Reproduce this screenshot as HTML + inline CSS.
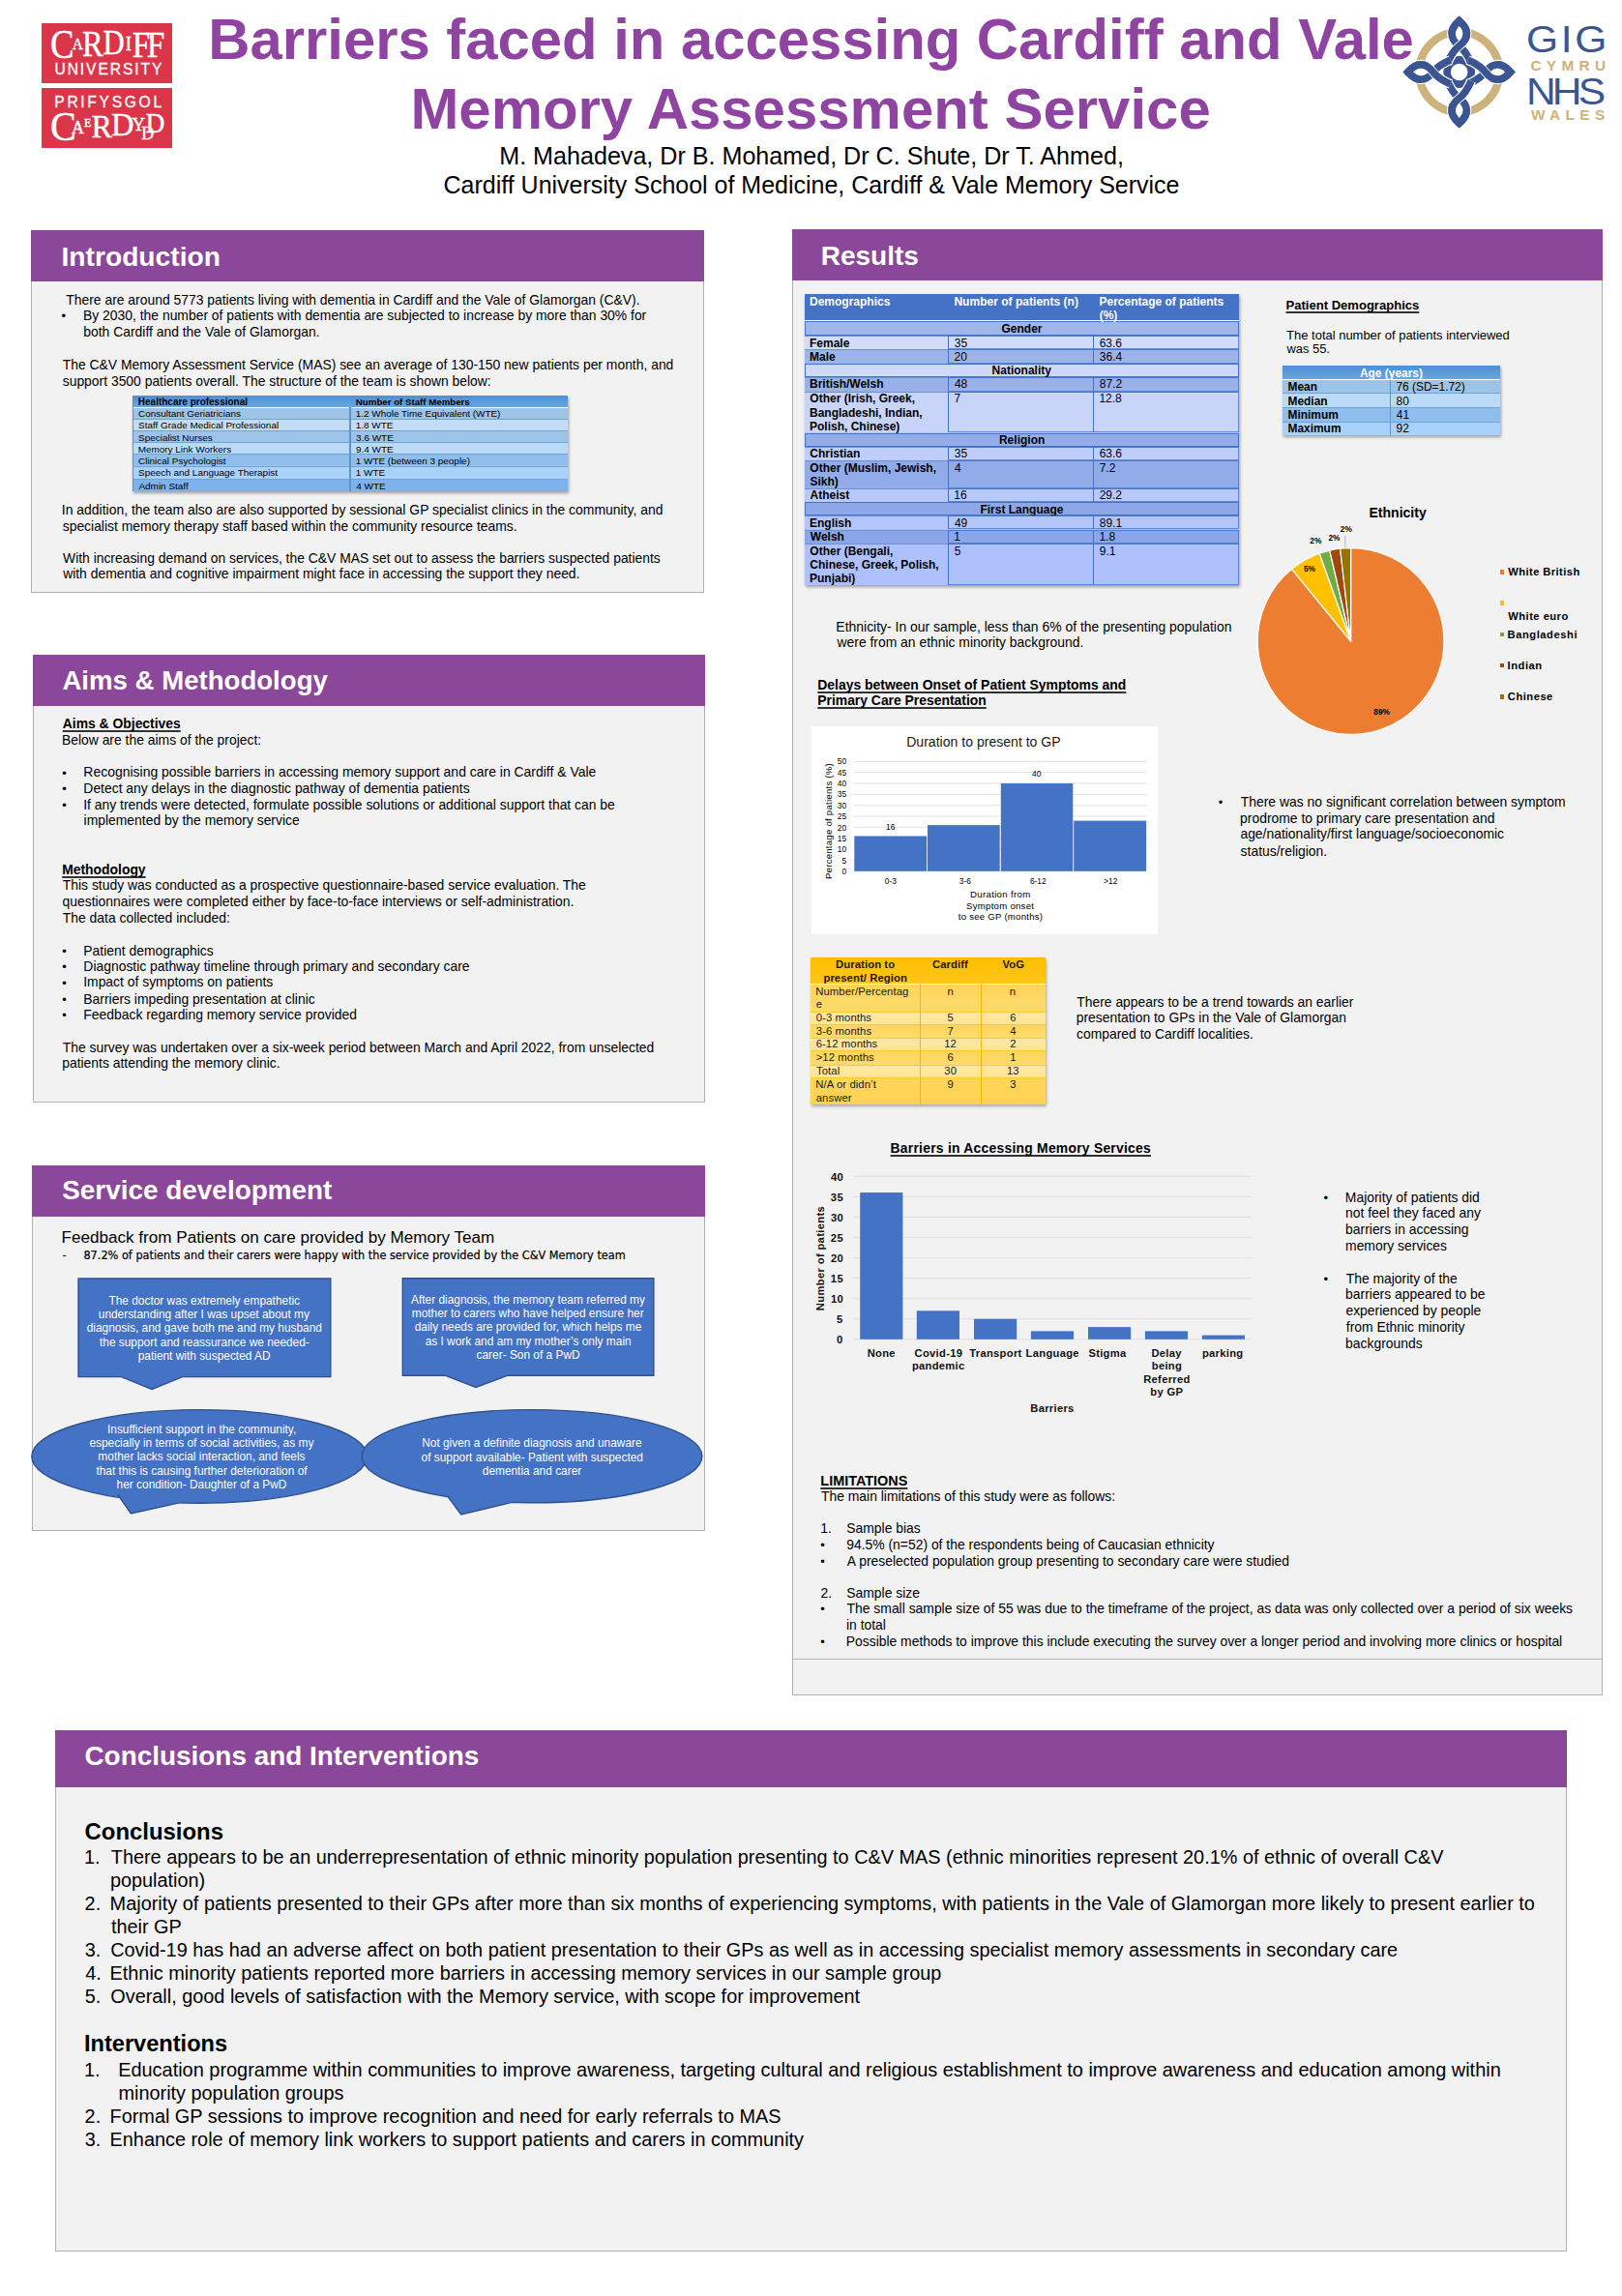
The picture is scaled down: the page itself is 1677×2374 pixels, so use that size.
<!DOCTYPE html>
<html><head><meta charset="utf-8"><title>Barriers faced in accessing Cardiff and Vale Memory Assessment Service</title>
<style>
html,body{margin:0;padding:0;background:#fff;}
body{width:1677px;height:2374px;position:relative;overflow:hidden;font-family:"Liberation Sans",sans-serif;color:#000;}
.t{position:absolute;white-space:pre;line-height:1;}
.r{position:absolute;box-sizing:border-box;}
svg{position:absolute;overflow:visible;}
</style></head><body>
<div class="t" style="left:215.25px;top:7px;font-size:59.82px;font-weight:bold;color:#8E44A0;line-height:67px;">Barriers faced in accessing Cardiff and Vale</div>
<div class="t" style="left:424.39px;top:79px;font-size:59.95px;font-weight:bold;color:#8E44A0;line-height:67px;">Memory Assessment Service</div>
<div class="t" style="left:516.24px;top:147px;font-size:25.12px;line-height:28px;">M. Mahadeva, Dr B. Mohamed, Dr C. Shute, Dr T. Ahmed,</div>
<div class="t" style="left:458.55px;top:177px;font-size:24.99px;line-height:28px;">Cardiff University School of Medicine, Cardiff &amp; Vale Memory Service</div>
<div class="r" style="left:43.40px;top:24.10px;width:134.40px;height:62.40px;background:#DB3549;"></div>
<div class="r" style="left:43.40px;top:90.50px;width:134.40px;height:62.60px;background:#DB3549;"></div>
<div class="r" style="left:32.40px;top:237.50px;width:696.10px;height:375.00px;background:#F2F2F2;border:1px solid #B0B0B0;"></div>
<div class="r" style="left:32.40px;top:237.50px;width:696.10px;height:53.50px;background:#8B4799;"></div>
<div class="t" style="left:63.54px;top:249px;font-size:28.19px;font-weight:bold;color:#fff;line-height:32px;">Introduction</div>
<div class="t" style="left:68.29px;top:302px;font-size:13.90px;line-height:16px;">There are around 5773 patients living with dementia in Cardiff and the Vale of Glamorgan (C&amp;V).</div>
<div class="t" style="left:63.43px;top:319px;font-size:13.00px;line-height:15px;">•</div>
<div class="t" style="left:86.06px;top:318px;font-size:13.90px;line-height:16px;">By 2030, the number of patients with dementia are subjected to increase by more than 30% for</div>
<div class="t" style="left:86.31px;top:335px;font-size:13.90px;line-height:16px;">both Cardiff and the Vale of Glamorgan.</div>
<div class="t" style="left:64.79px;top:369px;font-size:13.90px;line-height:16px;">The C&amp;V Memory Assessment Service (MAS) see an average of 130-150 new patients per month, and</div>
<div class="t" style="left:64.72px;top:386px;font-size:13.90px;line-height:16px;">support 3500 patients overall. The structure of the team is shown below:</div>
<div class="t" style="left:63.82px;top:519px;font-size:13.94px;line-height:16px;">In addition, the team also are also supported by sessional GP specialist clinics in the community, and</div>
<div class="t" style="left:64.72px;top:536px;font-size:13.90px;line-height:16px;">specialist memory therapy staff based within the community resource teams.</div>
<div class="t" style="left:65.04px;top:569px;font-size:13.88px;line-height:16px;">With increasing demand on services, the C&amp;V MAS set out to assess the barriers suspected patients</div>
<div class="t" style="left:65.13px;top:585px;font-size:13.90px;line-height:16px;">with dementia and cognitive impairment might face in accessing the support they need.</div>
<div class="r" style="left:137.20px;top:409.30px;width:449.70px;height:98.40px;background:#9DC3E6;box-shadow:1px 2px 3px rgba(0,0,0,.35);"></div>
<div class="r" style="left:137.20px;top:409.30px;width:449.70px;height:11.30px;background:linear-gradient(#4E8FD3,#6AA6DD);"></div>
<div class="r" style="left:137.20px;top:420.60px;width:449.70px;height:12.20px;background:#9DC3E6;border-top:1.6px solid #fff;"></div>
<div class="r" style="left:137.20px;top:432.80px;width:449.70px;height:12.20px;background:#C4DCF3;border-top:1px solid #6FA3DA;"></div>
<div class="r" style="left:137.20px;top:445.00px;width:449.70px;height:12.20px;background:#9DC3EA;border-top:1px solid #6FA3DA;"></div>
<div class="r" style="left:137.20px;top:457.20px;width:449.70px;height:12.20px;background:#BBDAF8;border-top:1px solid #6FA3DA;"></div>
<div class="r" style="left:137.20px;top:469.40px;width:449.70px;height:12.10px;background:#8FBDEC;border-top:1px solid #6FA3DA;"></div>
<div class="r" style="left:137.20px;top:481.50px;width:449.70px;height:13.10px;background:#A9D2FA;border-top:1px solid #6FA3DA;"></div>
<div class="r" style="left:137.20px;top:494.60px;width:449.70px;height:13.10px;background:#7DB3EC;border-top:1px solid #6FA3DA;"></div>
<div class="r" style="left:361.00px;top:420.60px;width:1.60px;height:87.10px;background:#5B93D3;"></div>
<div class="r" style="left:137.20px;top:409.30px;width:1.00px;height:98.40px;background:#5B93D3;"></div>
<div class="t" style="left:142.84px;top:410px;font-size:9.99px;font-weight:bold;line-height:11px;">Healthcare professional</div>
<div class="t" style="left:367.86px;top:410px;font-size:9.70px;font-weight:bold;line-height:11px;">Number of Staff Members</div>
<div class="t" style="left:143.00px;top:422px;font-size:9.95px;line-height:11px;">Consultant Geriatricians</div>
<div class="t" style="left:367.74px;top:422px;font-size:9.95px;line-height:11px;">1.2 Whole Time Equivalent (WTE)</div>
<div class="t" style="left:143.05px;top:434px;font-size:9.95px;line-height:11px;">Staff Grade Medical Professional</div>
<div class="t" style="left:367.74px;top:434px;font-size:9.95px;line-height:11px;">1.8 WTE</div>
<div class="t" style="left:143.05px;top:447px;font-size:9.95px;line-height:11px;">Specialist Nurses</div>
<div class="t" style="left:368.12px;top:447px;font-size:9.95px;line-height:11px;">3.6 WTE</div>
<div class="t" style="left:142.68px;top:459px;font-size:9.95px;line-height:11px;">Memory Link Workers</div>
<div class="t" style="left:368.04px;top:459px;font-size:9.95px;line-height:11px;">9.4 WTE</div>
<div class="t" style="left:143.00px;top:471px;font-size:9.95px;line-height:11px;">Clinical Psychologist</div>
<div class="t" style="left:367.74px;top:471px;font-size:9.95px;line-height:11px;">1 WTE (between 3 people)</div>
<div class="t" style="left:143.05px;top:483px;font-size:9.95px;line-height:11px;">Speech and Language Therapist</div>
<div class="t" style="left:367.74px;top:483px;font-size:9.95px;line-height:11px;">1 WTE</div>
<div class="t" style="left:143.48px;top:497px;font-size:9.95px;line-height:11px;">Admin Staff</div>
<div class="t" style="left:368.28px;top:497px;font-size:9.95px;line-height:11px;">4 WTE</div>
<div class="r" style="left:34.00px;top:676.50px;width:694.80px;height:463.00px;background:#F2F2F2;border:1px solid #B0B0B0;"></div>
<div class="r" style="left:34.00px;top:676.50px;width:694.80px;height:53.10px;background:#8B4799;"></div>
<div class="t" style="left:64.44px;top:688px;font-size:27.60px;font-weight:bold;color:#fff;line-height:31px;">Aims &amp; Methodology</div>
<div class="t" style="left:64.77px;top:740px;font-size:13.90px;font-weight:bold;text-decoration:underline #333;text-decoration-skip-ink:none;text-underline-offset:2.29px;text-decoration-thickness:1.60px;line-height:16px;">Aims &amp; Objectives</div>
<div class="t" style="left:63.96px;top:757px;font-size:13.90px;line-height:16px;">Below are the aims of the project:</div>
<div class="t" style="left:64.32px;top:792px;font-size:13.00px;line-height:15px;">•</div>
<div class="t" style="left:86.36px;top:790px;font-size:13.96px;line-height:16px;">Recognising possible barriers in accessing memory support and care in Cardiff &amp; Vale</div>
<div class="t" style="left:64.32px;top:808px;font-size:13.00px;line-height:15px;">•</div>
<div class="t" style="left:86.36px;top:807px;font-size:13.90px;line-height:16px;">Detect any delays in the diagnostic pathway of dementia patients</div>
<div class="t" style="left:64.32px;top:825px;font-size:13.00px;line-height:15px;">•</div>
<div class="t" style="left:86.22px;top:824px;font-size:13.92px;line-height:16px;">If any trends were detected, formulate possible solutions or additional support that can be</div>
<div class="t" style="left:86.58px;top:840px;font-size:13.90px;line-height:16px;">implemented by the memory service</div>
<div class="t" style="left:64.18px;top:891px;font-size:13.90px;font-weight:bold;text-decoration:underline #333;text-decoration-skip-ink:none;text-underline-offset:2.29px;text-decoration-thickness:1.60px;line-height:16px;">Methodology</div>
<div class="t" style="left:64.79px;top:907px;font-size:13.90px;line-height:16px;">This study was conducted as a prospective questionnaire-based service evaluation. The</div>
<div class="t" style="left:64.52px;top:924px;font-size:13.90px;line-height:16px;">questionnaires were completed either by face-to-face interviews or self-administration.</div>
<div class="t" style="left:64.79px;top:941px;font-size:13.90px;line-height:16px;">The data collected included:</div>
<div class="t" style="left:64.32px;top:976px;font-size:13.00px;line-height:15px;">•</div>
<div class="t" style="left:86.36px;top:975px;font-size:13.90px;line-height:16px;">Patient demographics</div>
<div class="t" style="left:64.32px;top:992px;font-size:13.00px;line-height:15px;">•</div>
<div class="t" style="left:86.36px;top:991px;font-size:13.90px;line-height:16px;">Diagnostic pathway timeline through primary and secondary care</div>
<div class="t" style="left:64.32px;top:1009px;font-size:13.00px;line-height:15px;">•</div>
<div class="t" style="left:86.22px;top:1007px;font-size:13.90px;line-height:16px;">Impact of symptoms on patients</div>
<div class="t" style="left:64.32px;top:1026px;font-size:13.00px;line-height:15px;">•</div>
<div class="t" style="left:86.36px;top:1025px;font-size:13.90px;line-height:16px;">Barriers impeding presentation at clinic</div>
<div class="t" style="left:64.32px;top:1042px;font-size:13.00px;line-height:15px;">•</div>
<div class="t" style="left:86.36px;top:1041px;font-size:13.90px;line-height:16px;">Feedback regarding memory service provided</div>
<div class="t" style="left:64.79px;top:1075px;font-size:13.90px;line-height:16px;">The survey was undertaken over a six-week period between March and April 2022, from unselected</div>
<div class="t" style="left:64.21px;top:1091px;font-size:13.90px;line-height:16px;">patients attending the memory clinic.</div>
<div class="r" style="left:32.80px;top:1204.80px;width:695.80px;height:377.80px;background:#F2F2F2;border:1px solid #B0B0B0;"></div>
<div class="r" style="left:32.80px;top:1204.80px;width:695.80px;height:53.00px;background:#8B4799;"></div>
<div class="t" style="left:64.22px;top:1215px;font-size:27.91px;font-weight:bold;color:#fff;line-height:31px;">Service development</div>
<div class="t" style="left:63.60px;top:1270px;font-size:17.08px;line-height:19px;">Feedback from Patients on care provided by Memory Team</div>
<div class="t" style="left:64.46px;top:1290px;font-size:12.50px;font-family:'DejaVu Sans Condensed','DejaVu Sans',sans-serif;line-height:15px;">-</div>
<div class="t" style="left:86.43px;top:1290px;font-size:12.57px;font-family:'DejaVu Sans Condensed','DejaVu Sans',sans-serif;line-height:15px;-webkit-text-stroke:0.2px #000;">87.2% of patients and their carers were happy with the service provided by the C&amp;V Memory team</div>
<svg style="left:0;top:0" width="1677" height="2374" viewBox="0 0 1677 2374"><path d="M81.0 1322.0 H341.8 V1423.6 H188.7 L157.0 1436.5 L125.4 1423.6 H81.0 Z" fill="#4472C4" stroke="#2F528F" stroke-width="1.4"/><path d="M416.3 1321.8 H675.9 V1422.2 H525.1 L492.0 1434.5 L460.1 1422.2 H416.3 Z" fill="#4472C4" stroke="#2F528F" stroke-width="1.4"/><ellipse cx="206.2" cy="1505.9" rx="173.4" ry="48.3" fill="#4472C4" stroke="#2F528F" stroke-width="1.4"/><path d="M122.0 1545.5 L135.4 1565.0 L185.4 1553.9" fill="#4472C4" stroke="#2F528F" stroke-width="1.4"/><path d="M123.2 1542.5 L123.2 1546.1 L184.4 1554.3 L189.4 1549.9 Z" fill="#4472C4"/><ellipse cx="550.0" cy="1505.7" rx="175.9" ry="48.1" fill="#4472C4" stroke="#2F528F" stroke-width="1.4"/><path d="M463.5 1548.1 L476.8 1566.0 L527.4 1553.8" fill="#4472C4" stroke="#2F528F" stroke-width="1.4"/><path d="M464.7 1545.1 L464.7 1548.7 L526.4 1554.2 L531.4 1549.8 Z" fill="#4472C4"/></svg>
<div class="t" style="left:112.45px;top:1338px;font-size:11.90px;color:#fff;line-height:14px;">The doctor was extremely empathetic</div>
<div class="t" style="left:101.78px;top:1352px;font-size:11.90px;color:#fff;line-height:14px;">understanding after I was upset about my</div>
<div class="t" style="left:89.70px;top:1366px;font-size:11.90px;color:#fff;line-height:14px;">diagnosis, and gave both me and my husband</div>
<div class="t" style="left:102.98px;top:1381px;font-size:11.90px;color:#fff;line-height:14px;">the support and reassurance we needed-</div>
<div class="t" style="left:142.73px;top:1395px;font-size:11.90px;color:#fff;line-height:14px;">patient with suspected AD</div>
<div class="t" style="left:425.07px;top:1337px;font-size:11.90px;color:#fff;line-height:14px;">After diagnosis, the memory team referred my</div>
<div class="t" style="left:425.74px;top:1351px;font-size:11.90px;color:#fff;line-height:14px;">mother to carers who have helped ensure her</div>
<div class="t" style="left:428.70px;top:1365px;font-size:11.90px;color:#fff;line-height:14px;">daily needs are provided for, which helps me</div>
<div class="t" style="left:439.64px;top:1380px;font-size:11.90px;color:#fff;line-height:14px;">as I work and am my mother’s only main</div>
<div class="t" style="left:492.56px;top:1394px;font-size:11.90px;color:#fff;line-height:14px;">carer- Son of a PwD</div>
<div class="t" style="left:111.01px;top:1471px;font-size:11.90px;color:#fff;line-height:14px;">Insufficient support in the community,</div>
<div class="t" style="left:92.40px;top:1485px;font-size:11.90px;color:#fff;line-height:14px;">especially in terms of social activities, as my</div>
<div class="t" style="left:101.37px;top:1499px;font-size:11.90px;color:#fff;line-height:14px;">mother lacks social interaction, and feels</div>
<div class="t" style="left:99.46px;top:1514px;font-size:11.90px;color:#fff;line-height:14px;">that this is causing further deterioration of</div>
<div class="t" style="left:120.60px;top:1528px;font-size:11.90px;color:#fff;line-height:14px;">her condition- Daughter of a PwD</div>
<div class="t" style="left:436.19px;top:1485px;font-size:11.90px;color:#fff;line-height:14px;">Not given a definite diagnosis and unaware</div>
<div class="t" style="left:435.56px;top:1500px;font-size:11.90px;color:#fff;line-height:14px;">of support available- Patient with suspected</div>
<div class="t" style="left:498.78px;top:1514px;font-size:11.90px;color:#fff;line-height:14px;">dementia and carer</div>
<div class="r" style="left:818.50px;top:237.30px;width:838.10px;height:1515.90px;background:#F2F2F2;border:1px solid #B0B0B0;"></div>
<div class="r" style="left:818.50px;top:237.30px;width:838.10px;height:52.90px;background:#8B4799;"></div>
<div class="t" style="left:848.65px;top:249px;font-size:28.04px;font-weight:bold;color:#fff;line-height:31px;">Results</div>
<div class="r" style="left:818.50px;top:1715.40px;width:838.10px;height:1.00px;background:#B0B0B0;"></div>
<div class="r" style="left:832.00px;top:304.20px;width:449.30px;height:301.00px;background:linear-gradient(#C9D6F5,#A5B8FA);box-shadow:1px 2px 3px rgba(0,0,0,.35);"></div>
<div class="r" style="left:832.00px;top:304.20px;width:449.30px;height:27.30px;background:#4472C4;"></div>
<div class="r" style="left:832.00px;top:330.80px;width:449.30px;height:1.40px;background:#fff;"></div>
<div class="r" style="left:832.00px;top:331.90px;width:449.30px;height:15.00px;background:#A0B6E8;border:1.5px solid #4472C4;"></div>
<div class="t" style="left:1035.48px;top:333px;font-size:12.00px;font-weight:bold;line-height:14px;">Gender</div>
<div class="r" style="left:832.00px;top:346.90px;width:449.30px;height:14.20px;background:#D2DCF8;border-top:1px solid #6F8FD8;"></div>
<div class="r" style="left:980.20px;top:346.90px;width:301.10px;height:14.20px;background:transparent;border:1px solid rgba(68,114,196,.75);border-left:1.5px solid #4472C4;"></div>
<div class="r" style="left:1130.30px;top:346.90px;width:1.00px;height:14.20px;background:#4472C4;"></div>
<div class="t" style="left:837.01px;top:348px;font-size:12.00px;font-weight:bold;line-height:14px;">Female</div>
<div class="t" style="left:986.74px;top:348px;font-size:12.00px;line-height:14px;">35</div>
<div class="t" style="left:1136.70px;top:348px;font-size:12.00px;line-height:14px;">63.6</div>
<div class="r" style="left:832.00px;top:361.10px;width:449.30px;height:14.50px;background:#9DB4E8;border-top:1px solid #6F8FD8;"></div>
<div class="r" style="left:980.20px;top:361.10px;width:301.10px;height:14.50px;background:transparent;border:1px solid rgba(68,114,196,.75);border-left:1.5px solid #4472C4;"></div>
<div class="r" style="left:1130.30px;top:361.10px;width:1.00px;height:14.50px;background:#4472C4;"></div>
<div class="t" style="left:837.01px;top:362px;font-size:12.00px;font-weight:bold;line-height:14px;">Male</div>
<div class="t" style="left:986.60px;top:362px;font-size:12.00px;line-height:14px;">20</div>
<div class="t" style="left:1136.84px;top:362px;font-size:12.00px;line-height:14px;">36.4</div>
<div class="r" style="left:832.00px;top:375.60px;width:449.30px;height:14.20px;background:#CDD9F9;border:1.5px solid #4472C4;"></div>
<div class="t" style="left:1025.61px;top:376px;font-size:12.00px;font-weight:bold;line-height:14px;">Nationality</div>
<div class="r" style="left:832.00px;top:389.80px;width:449.30px;height:14.80px;background:#9AB1E8;border-top:1px solid #6F8FD8;"></div>
<div class="r" style="left:980.20px;top:389.80px;width:301.10px;height:14.80px;background:transparent;border:1px solid rgba(68,114,196,.75);border-left:1.5px solid #4472C4;"></div>
<div class="r" style="left:1130.30px;top:389.80px;width:1.00px;height:14.80px;background:#4472C4;"></div>
<div class="t" style="left:837.01px;top:390px;font-size:12.00px;font-weight:bold;line-height:14px;">British/Welsh</div>
<div class="t" style="left:986.94px;top:390px;font-size:12.00px;line-height:14px;">48</div>
<div class="t" style="left:1136.78px;top:390px;font-size:12.00px;line-height:14px;">87.2</div>
<div class="r" style="left:832.00px;top:404.60px;width:449.30px;height:42.90px;background:#C8D5F9;border-top:1px solid #6F8FD8;"></div>
<div class="r" style="left:980.20px;top:404.60px;width:301.10px;height:42.90px;background:transparent;border:1px solid rgba(68,114,196,.75);border-left:1.5px solid #4472C4;"></div>
<div class="r" style="left:1130.30px;top:404.60px;width:1.00px;height:42.90px;background:#4472C4;"></div>
<div class="t" style="left:837.31px;top:405px;font-size:12.00px;font-weight:bold;line-height:14px;">Other (Irish, Greek,</div>
<div class="t" style="left:837.01px;top:420px;font-size:12.00px;font-weight:bold;line-height:14px;">Bangladeshi, Indian,</div>
<div class="t" style="left:837.01px;top:434px;font-size:12.00px;font-weight:bold;line-height:14px;">Polish, Chinese)</div>
<div class="t" style="left:986.59px;top:405px;font-size:12.00px;line-height:14px;">7</div>
<div class="t" style="left:1136.39px;top:405px;font-size:12.00px;line-height:14px;">12.8</div>
<div class="r" style="left:832.00px;top:447.50px;width:449.30px;height:14.20px;background:#94ADE8;border:1.5px solid #4472C4;"></div>
<div class="t" style="left:1032.96px;top:448px;font-size:12.00px;font-weight:bold;line-height:14px;">Religion</div>
<div class="r" style="left:832.00px;top:461.70px;width:449.30px;height:14.20px;background:#BFCEFA;border-top:1px solid #6F8FD8;"></div>
<div class="r" style="left:980.20px;top:461.70px;width:301.10px;height:14.20px;background:transparent;border:1px solid rgba(68,114,196,.75);border-left:1.5px solid #4472C4;"></div>
<div class="r" style="left:1130.30px;top:461.70px;width:1.00px;height:14.20px;background:#4472C4;"></div>
<div class="t" style="left:837.31px;top:462px;font-size:12.00px;font-weight:bold;line-height:14px;">Christian</div>
<div class="t" style="left:986.74px;top:462px;font-size:12.00px;line-height:14px;">35</div>
<div class="t" style="left:1136.70px;top:462px;font-size:12.00px;line-height:14px;">63.6</div>
<div class="r" style="left:832.00px;top:475.90px;width:449.30px;height:28.70px;background:#91AAE8;border-top:1px solid #6F8FD8;"></div>
<div class="r" style="left:980.20px;top:475.90px;width:301.10px;height:28.70px;background:transparent;border:1px solid rgba(68,114,196,.75);border-left:1.5px solid #4472C4;"></div>
<div class="r" style="left:1130.30px;top:475.90px;width:1.00px;height:28.70px;background:#4472C4;"></div>
<div class="t" style="left:837.31px;top:477px;font-size:12.00px;font-weight:bold;line-height:14px;">Other (Muslim, Jewish,</div>
<div class="t" style="left:837.46px;top:491px;font-size:12.00px;font-weight:bold;line-height:14px;">Sikh)</div>
<div class="t" style="left:986.94px;top:477px;font-size:12.00px;line-height:14px;">4</div>
<div class="t" style="left:1136.69px;top:477px;font-size:12.00px;line-height:14px;">7.2</div>
<div class="r" style="left:832.00px;top:504.60px;width:449.30px;height:14.50px;background:#B8C9FB;border-top:1px solid #6F8FD8;"></div>
<div class="r" style="left:980.20px;top:504.60px;width:301.10px;height:14.50px;background:transparent;border:1px solid rgba(68,114,196,.75);border-left:1.5px solid #4472C4;"></div>
<div class="r" style="left:1130.30px;top:504.60px;width:1.00px;height:14.50px;background:#4472C4;"></div>
<div class="t" style="left:837.51px;top:505px;font-size:12.00px;font-weight:bold;line-height:14px;">Atheist</div>
<div class="t" style="left:986.29px;top:505px;font-size:12.00px;line-height:14px;">16</div>
<div class="t" style="left:1136.70px;top:505px;font-size:12.00px;line-height:14px;">29.2</div>
<div class="r" style="left:832.00px;top:519.10px;width:449.30px;height:14.20px;background:#8DA7E8;border:1.5px solid #4472C4;"></div>
<div class="t" style="left:1013.45px;top:520px;font-size:12.00px;font-weight:bold;line-height:14px;">First Language</div>
<div class="r" style="left:832.00px;top:533.30px;width:449.30px;height:14.20px;background:#B4C5FC;border-top:1px solid #6F8FD8;"></div>
<div class="r" style="left:980.20px;top:533.30px;width:301.10px;height:14.20px;background:transparent;border:1px solid rgba(68,114,196,.75);border-left:1.5px solid #4472C4;"></div>
<div class="r" style="left:1130.30px;top:533.30px;width:1.00px;height:14.20px;background:#4472C4;"></div>
<div class="t" style="left:837.01px;top:534px;font-size:12.00px;font-weight:bold;line-height:14px;">English</div>
<div class="t" style="left:986.94px;top:534px;font-size:12.00px;line-height:14px;">49</div>
<div class="t" style="left:1136.78px;top:534px;font-size:12.00px;line-height:14px;">89.1</div>
<div class="r" style="left:832.00px;top:547.50px;width:449.30px;height:14.50px;background:#8AA5E8;border-top:1px solid #6F8FD8;"></div>
<div class="r" style="left:980.20px;top:547.50px;width:301.10px;height:14.50px;background:transparent;border:1px solid rgba(68,114,196,.75);border-left:1.5px solid #4472C4;"></div>
<div class="r" style="left:1130.30px;top:547.50px;width:1.00px;height:14.50px;background:#4472C4;"></div>
<div class="t" style="left:837.79px;top:548px;font-size:12.00px;font-weight:bold;line-height:14px;">Welsh</div>
<div class="t" style="left:986.29px;top:548px;font-size:12.00px;line-height:14px;">1</div>
<div class="t" style="left:1136.39px;top:548px;font-size:12.00px;line-height:14px;">1.8</div>
<div class="r" style="left:832.00px;top:562.00px;width:449.30px;height:43.20px;background:#AFC1FC;border-top:1px solid #6F8FD8;"></div>
<div class="r" style="left:980.20px;top:562.00px;width:301.10px;height:43.20px;background:transparent;border:1px solid rgba(68,114,196,.75);border-left:1.5px solid #4472C4;"></div>
<div class="r" style="left:1130.30px;top:562.00px;width:1.00px;height:43.20px;background:#4472C4;"></div>
<div class="t" style="left:837.31px;top:563px;font-size:12.00px;font-weight:bold;line-height:14px;">Other (Bengali,</div>
<div class="t" style="left:837.31px;top:577px;font-size:12.00px;font-weight:bold;line-height:14px;">Chinese, Greek, Polish,</div>
<div class="t" style="left:837.01px;top:591px;font-size:12.00px;font-weight:bold;line-height:14px;">Punjabi)</div>
<div class="t" style="left:986.72px;top:563px;font-size:12.00px;line-height:14px;">5</div>
<div class="t" style="left:1136.75px;top:563px;font-size:12.00px;line-height:14px;">9.1</div>
<div class="t" style="left:837.01px;top:305px;font-size:12.00px;font-weight:bold;color:#fff;line-height:14px;">Demographics</div>
<div class="t" style="left:986.40px;top:305px;font-size:12.06px;font-weight:bold;color:#fff;line-height:14px;">Number of patients (n)</div>
<div class="t" style="left:1136.51px;top:305px;font-size:12.00px;font-weight:bold;color:#fff;line-height:14px;">Percentage of patients</div>
<div class="t" style="left:1136.71px;top:319px;font-size:12.00px;font-weight:bold;color:#fff;line-height:14px;">(%)</div>
<div class="t" style="left:1329.54px;top:308px;font-size:13.05px;font-weight:bold;text-decoration:underline #333;text-decoration-skip-ink:none;text-underline-offset:2.15px;text-decoration-thickness:1.50px;line-height:15px;">Patient Demographics</div>
<div class="t" style="left:1330.11px;top:339px;font-size:12.97px;line-height:15px;">The total number of patients interviewed</div>
<div class="t" style="left:1330.43px;top:353px;font-size:12.91px;line-height:15px;">was 55.</div>
<div class="r" style="left:1325.80px;top:378.10px;width:225.00px;height:72.10px;background:#9DC3E6;box-shadow:1px 2px 3px rgba(0,0,0,.35);"></div>
<div class="r" style="left:1325.80px;top:378.10px;width:225.00px;height:14.30px;background:linear-gradient(#4E8FD3,#6AA6DD);"></div>
<div class="r" style="left:1325.80px;top:392.40px;width:225.00px;height:14.00px;background:#9DC3E6;border-top:1px solid #fff;"></div>
<div class="r" style="left:1325.80px;top:406.40px;width:225.00px;height:14.80px;background:#BBDAF8;border-top:1px solid #6FA3DA;"></div>
<div class="r" style="left:1325.80px;top:421.20px;width:225.00px;height:14.50px;background:#8FBDEC;border-top:1px solid #6FA3DA;"></div>
<div class="r" style="left:1325.80px;top:435.70px;width:225.00px;height:14.50px;background:#A9D2FA;border-top:1px solid #6FA3DA;"></div>
<div class="r" style="left:1437.00px;top:392.40px;width:1.20px;height:57.80px;background:#5B93D3;"></div>
<div class="t" style="left:1405.96px;top:379px;font-size:11.93px;font-weight:bold;color:#fff;line-height:14px;">Age (years)</div>
<div class="r" style="left:1325.80px;top:391.70px;width:225.00px;height:1.40px;background:#fff;"></div>
<div class="t" style="left:1331.51px;top:393px;font-size:11.93px;font-weight:bold;line-height:14px;">Mean</div>
<div class="t" style="left:1443.49px;top:393px;font-size:11.93px;line-height:14px;">76 (SD=1.72)</div>
<div class="t" style="left:1331.51px;top:408px;font-size:11.93px;font-weight:bold;line-height:14px;">Median</div>
<div class="t" style="left:1443.59px;top:408px;font-size:11.93px;line-height:14px;">80</div>
<div class="t" style="left:1331.51px;top:422px;font-size:11.93px;font-weight:bold;line-height:14px;">Minimum</div>
<div class="t" style="left:1443.84px;top:422px;font-size:11.93px;line-height:14px;">41</div>
<div class="t" style="left:1331.51px;top:436px;font-size:11.93px;font-weight:bold;line-height:14px;">Maximum</div>
<div class="t" style="left:1443.55px;top:436px;font-size:11.93px;line-height:14px;">92</div>
<div class="t" style="left:1415.47px;top:522px;font-size:14.04px;font-weight:bold;line-height:16px;">Ethnicity</div>
<svg style="left:0;top:0" width="1677" height="2374" viewBox="0 0 1677 2374"><path d="M1396.60 663.00 L1396.60 566.60 A96.40 96.40 0 1 1 1335.58 588.37 Z" fill="#ED7D31" stroke="#fff" stroke-width="1.2" stroke-linejoin="round"/><path d="M1396.60 663.00 L1335.58 588.37 A96.40 96.40 0 0 1 1364.20 572.21 Z" fill="#FFC000" stroke="#fff" stroke-width="1.2" stroke-linejoin="round"/><path d="M1396.60 663.00 L1364.20 572.21 A96.40 96.40 0 0 1 1374.77 569.11 Z" fill="#70AD47" stroke="#fff" stroke-width="1.2" stroke-linejoin="round"/><path d="M1396.60 663.00 L1374.77 569.11 A96.40 96.40 0 0 1 1385.61 567.23 Z" fill="#9E480E" stroke="#fff" stroke-width="1.2" stroke-linejoin="round"/><path d="M1396.60 663.00 L1385.61 567.23 A96.40 96.40 0 0 1 1396.60 566.60 Z" fill="#997300" stroke="#fff" stroke-width="1.2" stroke-linejoin="round"/><path d="M1390.8 553.5 V566.5" stroke="#A6A6A6" stroke-width="0.8"/></svg>
<div class="t" style="left:1385.87px;top:542px;font-size:8.30px;font-weight:bold;line-height:10px;">2%</div>
<div class="t" style="left:1354.27px;top:554px;font-size:8.30px;font-weight:bold;line-height:10px;">2%</div>
<div class="t" style="left:1373.47px;top:551px;font-size:8.30px;font-weight:bold;line-height:10px;">2%</div>
<div class="t" style="left:1347.99px;top:583px;font-size:8.30px;font-weight:bold;line-height:10px;">5%</div>
<div class="t" style="left:1420.37px;top:731px;font-size:8.30px;font-weight:bold;line-height:10px;">89%</div>
<div class="r" style="left:1550.80px;top:589.10px;width:4.70px;height:4.80px;background:#ED7D31;"></div>
<div class="t" style="left:1559.29px;top:585px;font-size:11.20px;font-weight:bold;letter-spacing:0.412px;line-height:12px;">White British</div>
<div class="r" style="left:1550.80px;top:621.40px;width:4.70px;height:4.80px;background:#FFC000;"></div>
<div class="t" style="left:1559.29px;top:631px;font-size:11.20px;font-weight:bold;letter-spacing:0.465px;line-height:12px;">White euro</div>
<div class="r" style="left:1550.80px;top:653.60px;width:4.70px;height:4.80px;background:#70AD47;"></div>
<div class="t" style="left:1558.56px;top:650px;font-size:11.20px;font-weight:bold;letter-spacing:0.543px;line-height:12px;">Bangladeshi</div>
<div class="r" style="left:1550.80px;top:685.70px;width:4.70px;height:4.80px;background:#9E480E;"></div>
<div class="t" style="left:1558.56px;top:682px;font-size:11.20px;font-weight:bold;letter-spacing:0.531px;line-height:12px;">Indian</div>
<div class="r" style="left:1550.80px;top:718.00px;width:4.70px;height:4.80px;background:#997300;"></div>
<div class="t" style="left:1558.84px;top:714px;font-size:11.20px;font-weight:bold;letter-spacing:0.495px;line-height:12px;">Chinese</div>
<div class="t" style="left:864.36px;top:640px;font-size:13.95px;line-height:16px;">Ethnicity- In our sample, less than 6% of the presenting population</div>
<div class="t" style="left:865.53px;top:656px;font-size:13.90px;line-height:16px;">were from an ethnic minority background.</div>
<div class="t" style="left:845.28px;top:700px;font-size:13.95px;font-weight:bold;text-decoration:underline #333;text-decoration-skip-ink:none;text-underline-offset:2.30px;text-decoration-thickness:1.60px;line-height:16px;">Delays between Onset of Patient Symptoms and</div>
<div class="t" style="left:845.28px;top:716px;font-size:13.90px;font-weight:bold;text-decoration:underline #333;text-decoration-skip-ink:none;text-underline-offset:2.29px;text-decoration-thickness:1.60px;line-height:16px;">Primary Care Presentation</div>
<div class="r" style="left:838.50px;top:751.30px;width:358.20px;height:214.70px;background:#fff;"></div>
<div class="t" style="left:937.20px;top:759px;font-size:14.07px;color:#1a1a1a;line-height:16px;">Duration to present to GP</div>
<svg style="left:0;top:0" width="1677" height="2374" viewBox="0 0 1677 2374"><path d="M882.5 889.45 H1185.9" stroke="#D9D9D9" stroke-width="0.8"/><path d="M882.5 878.10 H1185.9" stroke="#D9D9D9" stroke-width="0.8"/><path d="M882.5 866.75 H1185.9" stroke="#D9D9D9" stroke-width="0.8"/><path d="M882.5 855.40 H1185.9" stroke="#D9D9D9" stroke-width="0.8"/><path d="M882.5 844.05 H1185.9" stroke="#D9D9D9" stroke-width="0.8"/><path d="M882.5 832.70 H1185.9" stroke="#D9D9D9" stroke-width="0.8"/><path d="M882.5 821.35 H1185.9" stroke="#D9D9D9" stroke-width="0.8"/><path d="M882.5 810.00 H1185.9" stroke="#D9D9D9" stroke-width="0.8"/><path d="M882.5 798.65 H1185.9" stroke="#D9D9D9" stroke-width="0.8"/><path d="M882.5 787.30 H1185.9" stroke="#D9D9D9" stroke-width="0.8"/><path d="M882.5 900.80 H1185.9" stroke="#D9D9D9" stroke-width="0.8"/><rect x="883.30" y="864.48" width="74.90" height="36.32" fill="#4472C4"/><rect x="959.00" y="853.13" width="74.70" height="47.67" fill="#4472C4"/><rect x="1034.80" y="810.00" width="74.50" height="90.80" fill="#4472C4"/><rect x="1110.20" y="848.59" width="74.90" height="52.21" fill="#4472C4"/></svg>
<div class="t" style="left:870.45px;top:896px;font-size:8.40px;line-height:10px;">0</div>
<div class="t" style="left:870.47px;top:885px;font-size:8.40px;line-height:10px;">5</div>
<div class="t" style="left:865.78px;top:873px;font-size:8.40px;line-height:10px;">10</div>
<div class="t" style="left:865.80px;top:862px;font-size:8.40px;line-height:10px;">15</div>
<div class="t" style="left:865.78px;top:851px;font-size:8.40px;line-height:10px;">20</div>
<div class="t" style="left:865.80px;top:839px;font-size:8.40px;line-height:10px;">25</div>
<div class="t" style="left:865.78px;top:828px;font-size:8.40px;line-height:10px;">30</div>
<div class="t" style="left:865.80px;top:816px;font-size:8.40px;line-height:10px;">35</div>
<div class="t" style="left:865.78px;top:805px;font-size:8.40px;line-height:10px;">40</div>
<div class="t" style="left:865.80px;top:794px;font-size:8.40px;line-height:10px;">45</div>
<div class="t" style="left:865.78px;top:782px;font-size:8.40px;line-height:10px;">50</div>
<div class="t" style="left:915.99px;top:850px;font-size:8.40px;line-height:10px;">16</div>
<div class="t" style="left:1067.00px;top:795px;font-size:8.40px;line-height:10px;">40</div>
<div class="t" style="left:914.75px;top:906px;font-size:8.40px;line-height:10px;">0-3</div>
<div class="t" style="left:991.85px;top:906px;font-size:8.40px;line-height:10px;">3-6</div>
<div class="t" style="left:1064.89px;top:906px;font-size:8.40px;line-height:10px;">6-12</div>
<div class="t" style="left:1141.08px;top:906px;font-size:8.40px;line-height:10px;">&gt;12</div>
<div class="t" style="left:1003.06px;top:919px;font-size:9.60px;letter-spacing:0.330px;line-height:11px;">Duration from</div>
<div class="t" style="left:999.02px;top:931px;font-size:9.60px;letter-spacing:0.275px;line-height:11px;">Symptom onset</div>
<div class="t" style="left:990.81px;top:942px;font-size:9.60px;letter-spacing:0.246px;line-height:11px;">to see GP (months)</div>
<div class="t" style="left:857.3px;top:849.0px;font-size:9.6px;color:#000;transform:translate(-50%,-50%) rotate(-90deg);letter-spacing:0.25px;">Percentage of patients (%)</div>
<div class="t" style="left:1259.72px;top:822px;font-size:13.00px;line-height:15px;">•</div>
<div class="t" style="left:1282.69px;top:821px;font-size:13.93px;line-height:16px;">There was no significant correlation between symptom</div>
<div class="t" style="left:1282.11px;top:838px;font-size:13.90px;line-height:16px;">prodrome to primary care presentation and</div>
<div class="t" style="left:1282.42px;top:854px;font-size:13.90px;line-height:16px;">age/nationality/first language/socioeconomic</div>
<div class="t" style="left:1282.62px;top:872px;font-size:13.90px;line-height:16px;">status/religion.</div>
<div class="r" style="left:837.70px;top:989.90px;width:243.70px;height:152.30px;background:#FFD966;box-shadow:1px 2px 3px rgba(0,0,0,.3);"></div>
<div class="r" style="left:837.70px;top:989.90px;width:243.70px;height:27.00px;background:linear-gradient(#FFBE00,#FFC61A);"></div>
<div class="r" style="left:837.70px;top:1016.90px;width:243.70px;height:28.90px;background:linear-gradient(#FFD65A,#FFDA6E);border-top:1px solid #fff;"></div>
<div class="r" style="left:837.70px;top:1045.80px;width:243.70px;height:13.00px;background:linear-gradient(#FFE9A6,#FFE493);border-top:1px solid #FFC933;"></div>
<div class="r" style="left:837.70px;top:1058.80px;width:243.70px;height:13.70px;background:linear-gradient(#FFD65A,#FFDA6E);border-top:1px solid #FFC933;"></div>
<div class="r" style="left:837.70px;top:1072.50px;width:243.70px;height:13.90px;background:linear-gradient(#FFE9A6,#FFE493);border-top:1px solid #FFC933;"></div>
<div class="r" style="left:837.70px;top:1086.40px;width:243.70px;height:14.10px;background:linear-gradient(#FFD65A,#FFDA6E);border-top:1px solid #FFC933;"></div>
<div class="r" style="left:837.70px;top:1100.50px;width:243.70px;height:13.40px;background:linear-gradient(#FFE9A6,#FFE493);border-top:1px solid #FFC933;"></div>
<div class="r" style="left:837.70px;top:1113.90px;width:243.70px;height:28.30px;background:linear-gradient(#FFD65A,#FFD253);border-top:1px solid #FFC933;"></div>
<div class="r" style="left:950.60px;top:1016.90px;width:1.00px;height:125.30px;background:#F5B800;"></div>
<div class="r" style="left:1013.80px;top:1016.90px;width:1.00px;height:125.30px;background:#F5B800;"></div>
<div class="t" style="left:864.00px;top:991px;font-size:11.30px;font-weight:bold;color:#1a1a1a;letter-spacing:0.084px;line-height:12px;">Duration to</div>
<div class="t" style="left:851.40px;top:1005px;font-size:11.30px;font-weight:bold;color:#1a1a1a;letter-spacing:0.084px;line-height:12px;">present/ Region</div>
<div class="t" style="left:963.90px;top:991px;font-size:11.30px;font-weight:bold;color:#1a1a1a;letter-spacing:0.084px;line-height:12px;">Cardiff</div>
<div class="t" style="left:1036.54px;top:991px;font-size:11.30px;font-weight:bold;color:#1a1a1a;letter-spacing:0.084px;line-height:12px;">VoG</div>
<div class="t" style="left:843.27px;top:1019px;font-size:11.30px;color:#1a1a1a;letter-spacing:0.084px;line-height:12px;">Number/Percentag</div>
<div class="t" style="left:843.73px;top:1032px;font-size:11.30px;color:#1a1a1a;letter-spacing:0.084px;line-height:12px;">e</div>
<div class="t" style="left:979.41px;top:1019px;font-size:11.30px;color:#1a1a1a;letter-spacing:0.084px;line-height:12px;">n</div>
<div class="t" style="left:1043.81px;top:1019px;font-size:11.30px;color:#1a1a1a;letter-spacing:0.084px;line-height:12px;">n</div>
<div class="t" style="left:843.76px;top:1046px;font-size:11.30px;color:#1a1a1a;letter-spacing:0.084px;line-height:12px;">0-3 months</div>
<div class="t" style="left:979.42px;top:1046px;font-size:11.30px;color:#1a1a1a;letter-spacing:0.084px;line-height:12px;">5</div>
<div class="t" style="left:1044.28px;top:1046px;font-size:11.30px;color:#1a1a1a;letter-spacing:0.084px;line-height:12px;">6</div>
<div class="t" style="left:843.77px;top:1060px;font-size:11.30px;color:#1a1a1a;letter-spacing:0.084px;line-height:12px;">3-6 months</div>
<div class="t" style="left:979.41px;top:1060px;font-size:11.30px;color:#1a1a1a;letter-spacing:0.084px;line-height:12px;">7</div>
<div class="t" style="left:1044.36px;top:1060px;font-size:11.30px;color:#1a1a1a;letter-spacing:0.084px;line-height:12px;">4</div>
<div class="t" style="left:843.63px;top:1073px;font-size:11.30px;color:#1a1a1a;letter-spacing:0.084px;line-height:12px;">6-12 months</div>
<div class="t" style="left:976.13px;top:1073px;font-size:11.30px;color:#1a1a1a;letter-spacing:0.084px;line-height:12px;">12</div>
<div class="t" style="left:1044.32px;top:1073px;font-size:11.30px;color:#1a1a1a;letter-spacing:0.084px;line-height:12px;">2</div>
<div class="t" style="left:843.65px;top:1087px;font-size:11.30px;color:#1a1a1a;letter-spacing:0.084px;line-height:12px;">&gt;12 months</div>
<div class="t" style="left:979.38px;top:1087px;font-size:11.30px;color:#1a1a1a;letter-spacing:0.084px;line-height:12px;">6</div>
<div class="t" style="left:1044.16px;top:1087px;font-size:11.30px;color:#1a1a1a;letter-spacing:0.084px;line-height:12px;">1</div>
<div class="t" style="left:843.95px;top:1101px;font-size:11.30px;color:#1a1a1a;letter-spacing:0.084px;line-height:12px;">Total</div>
<div class="t" style="left:976.27px;top:1101px;font-size:11.30px;color:#1a1a1a;letter-spacing:0.084px;line-height:12px;">30</div>
<div class="t" style="left:1040.99px;top:1101px;font-size:11.30px;color:#1a1a1a;letter-spacing:0.084px;line-height:12px;">13</div>
<div class="t" style="left:843.27px;top:1115px;font-size:11.30px;color:#1a1a1a;letter-spacing:0.084px;line-height:12px;">N/A or didn’t</div>
<div class="t" style="left:979.42px;top:1115px;font-size:11.30px;color:#1a1a1a;letter-spacing:0.084px;line-height:12px;">9</div>
<div class="t" style="left:1044.34px;top:1115px;font-size:11.30px;color:#1a1a1a;letter-spacing:0.084px;line-height:12px;">3</div>
<div class="t" style="left:843.73px;top:1129px;font-size:11.30px;color:#1a1a1a;letter-spacing:0.084px;line-height:12px;">answer</div>
<div class="t" style="left:1113.29px;top:1028px;font-size:13.88px;line-height:16px;">There appears to be a trend towards an earlier</div>
<div class="t" style="left:1112.71px;top:1044px;font-size:13.90px;line-height:16px;">presentation to GPs in the Vale of Glamorgan</div>
<div class="t" style="left:1113.02px;top:1061px;font-size:13.90px;line-height:16px;">compared to Cardiff localities.</div>
<div class="t" style="left:920.58px;top:1179px;font-size:13.88px;font-weight:bold;letter-spacing:0.250px;text-decoration:underline #333;text-decoration-skip-ink:none;text-underline-offset:2.29px;text-decoration-thickness:1.60px;line-height:16px;">Barriers in Accessing Memory Services</div>
<svg style="left:0;top:0" width="1677" height="2374" viewBox="0 0 1677 2374"><path d="M881.8 1384.80 H1294.6" stroke="#D9D9D9" stroke-width="0.8"/><path d="M881.8 1363.72 H1294.6" stroke="#D9D9D9" stroke-width="0.8"/><path d="M881.8 1342.65 H1294.6" stroke="#D9D9D9" stroke-width="0.8"/><path d="M881.8 1321.58 H1294.6" stroke="#D9D9D9" stroke-width="0.8"/><path d="M881.8 1300.50 H1294.6" stroke="#D9D9D9" stroke-width="0.8"/><path d="M881.8 1279.42 H1294.6" stroke="#D9D9D9" stroke-width="0.8"/><path d="M881.8 1258.35 H1294.6" stroke="#D9D9D9" stroke-width="0.8"/><path d="M881.8 1237.27 H1294.6" stroke="#D9D9D9" stroke-width="0.8"/><path d="M881.8 1216.20 H1294.6" stroke="#D9D9D9" stroke-width="0.8"/><rect x="889.20" y="1233.06" width="44.2" height="151.74" fill="#4472C4"/><rect x="947.80" y="1355.29" width="44.2" height="29.50" fill="#4472C4"/><rect x="1007.00" y="1363.72" width="44.2" height="21.07" fill="#4472C4"/><rect x="1065.90" y="1376.37" width="44.2" height="8.43" fill="#4472C4"/><rect x="1125.00" y="1372.15" width="44.2" height="12.64" fill="#4472C4"/><rect x="1183.90" y="1376.37" width="44.2" height="8.43" fill="#4472C4"/><rect x="1242.80" y="1380.59" width="44.2" height="4.21" fill="#4472C4"/></svg>
<div class="t" style="left:865.12px;top:1379px;font-size:11.20px;font-weight:bold;color:#111;letter-spacing:0.500px;line-height:12px;">0</div>
<div class="t" style="left:864.98px;top:1358px;font-size:11.20px;font-weight:bold;color:#111;letter-spacing:0.500px;line-height:12px;">5</div>
<div class="t" style="left:858.89px;top:1337px;font-size:11.20px;font-weight:bold;color:#111;letter-spacing:0.500px;line-height:12px;">10</div>
<div class="t" style="left:858.75px;top:1316px;font-size:11.20px;font-weight:bold;color:#111;letter-spacing:0.500px;line-height:12px;">15</div>
<div class="t" style="left:858.89px;top:1295px;font-size:11.20px;font-weight:bold;color:#111;letter-spacing:0.500px;line-height:12px;">20</div>
<div class="t" style="left:858.75px;top:1274px;font-size:11.20px;font-weight:bold;color:#111;letter-spacing:0.500px;line-height:12px;">25</div>
<div class="t" style="left:858.89px;top:1253px;font-size:11.20px;font-weight:bold;color:#111;letter-spacing:0.500px;line-height:12px;">30</div>
<div class="t" style="left:858.75px;top:1232px;font-size:11.20px;font-weight:bold;color:#111;letter-spacing:0.500px;line-height:12px;">35</div>
<div class="t" style="left:858.89px;top:1211px;font-size:11.20px;font-weight:bold;color:#111;letter-spacing:0.500px;line-height:12px;">40</div>
<div class="t" style="left:849.3px;top:1301.0px;font-size:11.2px;font-weight:bold;color:#111;transform:translate(-50%,-50%) rotate(-90deg);letter-spacing:0.35px;">Number of patients</div>
<div class="t" style="left:896.67px;top:1393px;font-size:11.20px;font-weight:bold;color:#111;letter-spacing:0.300px;line-height:12px;">None</div>
<div class="t" style="left:945.57px;top:1393px;font-size:11.20px;font-weight:bold;color:#111;letter-spacing:0.300px;line-height:12px;">Covid-19</div>
<div class="t" style="left:942.91px;top:1406px;font-size:11.20px;font-weight:bold;color:#111;letter-spacing:0.300px;line-height:12px;">pandemic</div>
<div class="t" style="left:1002.28px;top:1393px;font-size:11.20px;font-weight:bold;color:#111;letter-spacing:0.300px;line-height:12px;">Transport</div>
<div class="t" style="left:1060.62px;top:1393px;font-size:11.20px;font-weight:bold;color:#111;letter-spacing:0.300px;line-height:12px;">Language</div>
<div class="t" style="left:1125.38px;top:1393px;font-size:11.20px;font-weight:bold;color:#111;letter-spacing:0.300px;line-height:12px;">Stigma</div>
<div class="t" style="left:1190.42px;top:1393px;font-size:11.20px;font-weight:bold;color:#111;letter-spacing:0.300px;line-height:12px;">Delay</div>
<div class="t" style="left:1190.78px;top:1406px;font-size:11.20px;font-weight:bold;color:#111;letter-spacing:0.300px;line-height:12px;">being</div>
<div class="t" style="left:1182.22px;top:1420px;font-size:11.20px;font-weight:bold;color:#111;letter-spacing:0.300px;line-height:12px;">Referred</div>
<div class="t" style="left:1189.34px;top:1433px;font-size:11.20px;font-weight:bold;color:#111;letter-spacing:0.300px;line-height:12px;">by GP</div>
<div class="t" style="left:1242.98px;top:1393px;font-size:11.20px;font-weight:bold;color:#111;letter-spacing:0.300px;line-height:12px;">parking</div>
<div class="t" style="left:1065.32px;top:1450px;font-size:11.20px;font-weight:bold;color:#111;letter-spacing:0.300px;line-height:12px;">Barriers</div>
<div class="t" style="left:1368.62px;top:1231px;font-size:13.00px;line-height:15px;">•</div>
<div class="t" style="left:1368.62px;top:1315px;font-size:13.00px;line-height:15px;">•</div>
<div class="t" style="left:1390.86px;top:1230px;font-size:13.90px;line-height:16px;">Majority of patients did</div>
<div class="t" style="left:1391.08px;top:1246px;font-size:13.90px;line-height:16px;">not feel they faced any</div>
<div class="t" style="left:1391.11px;top:1263px;font-size:13.90px;line-height:16px;">barriers in accessing</div>
<div class="t" style="left:1391.08px;top:1280px;font-size:13.90px;line-height:16px;">memory services</div>
<div class="t" style="left:1391.69px;top:1314px;font-size:13.90px;line-height:16px;">The majority of the</div>
<div class="t" style="left:1391.11px;top:1330px;font-size:13.90px;line-height:16px;">barriers appeared to be</div>
<div class="t" style="left:1391.42px;top:1347px;font-size:13.90px;line-height:16px;">experienced by people</div>
<div class="t" style="left:1391.81px;top:1364px;font-size:13.90px;line-height:16px;">from Ethnic minority</div>
<div class="t" style="left:1391.11px;top:1381px;font-size:13.90px;line-height:16px;">backgrounds</div>
<div class="t" style="left:848.35px;top:1523px;font-size:14.43px;font-weight:bold;text-decoration:underline #333;text-decoration-skip-ink:none;text-underline-offset:2.38px;text-decoration-thickness:1.66px;line-height:16px;">LIMITATIONS</div>
<div class="t" style="left:848.99px;top:1539px;font-size:13.90px;line-height:16px;">The main limitations of this study were as follows:</div>
<div class="t" style="left:848.24px;top:1572px;font-size:13.90px;line-height:16px;">1.</div>
<div class="t" style="left:875.27px;top:1572px;font-size:13.90px;line-height:16px;">Sample bias</div>
<div class="t" style="left:848.23px;top:1590px;font-size:13.00px;line-height:15px;">•</div>
<div class="t" style="left:875.26px;top:1589px;font-size:13.90px;line-height:16px;">94.5% (n=52) of the respondents being of Caucasian ethnicity</div>
<div class="t" style="left:848.23px;top:1607px;font-size:13.00px;line-height:15px;">•</div>
<div class="t" style="left:875.87px;top:1606px;font-size:13.90px;line-height:16px;">A preselected population group presenting to secondary care were studied</div>
<div class="t" style="left:848.61px;top:1639px;font-size:13.90px;line-height:16px;">2.</div>
<div class="t" style="left:875.27px;top:1639px;font-size:13.90px;line-height:16px;">Sample size</div>
<div class="t" style="left:848.23px;top:1656px;font-size:13.00px;line-height:15px;">•</div>
<div class="t" style="left:875.59px;top:1655px;font-size:13.90px;line-height:16px;">The small sample size of 55 was due to the timeframe of the project, as data was only collected over a period of six weeks</div>
<div class="t" style="left:874.98px;top:1672px;font-size:13.90px;line-height:16px;">in total</div>
<div class="t" style="left:848.23px;top:1690px;font-size:13.00px;line-height:15px;">•</div>
<div class="t" style="left:874.76px;top:1689px;font-size:13.90px;line-height:16px;">Possible methods to improve this include executing the survey over a longer period and involving more clinics or hospital</div>
<div class="r" style="left:57.00px;top:1789.00px;width:1562.60px;height:539.40px;background:#F2F2F2;border:1px solid #B0B0B0;"></div>
<div class="r" style="left:57.00px;top:1789.00px;width:1562.60px;height:58.80px;background:#8B4799;"></div>
<div class="t" style="left:87.46px;top:1800px;font-size:27.91px;font-weight:bold;color:#fff;line-height:31px;">Conclusions and Interventions</div>
<div class="t" style="left:87.62px;top:1880px;font-size:23.90px;font-weight:bold;line-height:27px;">Conclusions</div>
<div class="t" style="left:87.09px;top:1909px;font-size:19.88px;line-height:22px;">1.</div>
<div class="t" style="left:114.76px;top:1909px;font-size:19.88px;line-height:22px;">There appears to be an underrepresentation of ethnic minority population presenting to C&amp;V MAS (ethnic minorities represent 20.1% of ethnic of overall C&amp;V</div>
<div class="t" style="left:113.93px;top:1933px;font-size:19.88px;line-height:22px;">population)</div>
<div class="t" style="left:87.61px;top:1957px;font-size:19.88px;line-height:22px;">2.</div>
<div class="t" style="left:113.57px;top:1957px;font-size:19.92px;line-height:22px;">Majority of patients presented to their GPs after more than six months of experiencing symptoms, with patients in the Vale of Glamorgan more likely to present earlier to</div>
<div class="t" style="left:114.90px;top:1981px;font-size:19.88px;line-height:22px;">their GP</div>
<div class="t" style="left:87.84px;top:2005px;font-size:19.88px;line-height:22px;">3.</div>
<div class="t" style="left:114.21px;top:2005px;font-size:19.88px;line-height:22px;">Covid-19 has had an adverse affect on both patient presentation to their GPs as well as in accessing specialist memory assessments in secondary care</div>
<div class="t" style="left:88.16px;top:2029px;font-size:19.88px;line-height:22px;">4.</div>
<div class="t" style="left:113.57px;top:2029px;font-size:19.88px;line-height:22px;">Ethnic minority patients reported more barriers in accessing memory services in our sample group</div>
<div class="t" style="left:87.80px;top:2053px;font-size:19.88px;line-height:22px;">5.</div>
<div class="t" style="left:114.27px;top:2053px;font-size:19.88px;line-height:22px;">Overall, good levels of satisfaction with the Memory service, with scope for improvement</div>
<div class="t" style="left:87.04px;top:2100px;font-size:23.58px;font-weight:bold;line-height:26px;">Interventions</div>
<div class="t" style="left:87.09px;top:2129px;font-size:19.88px;line-height:22px;">1.</div>
<div class="t" style="left:122.17px;top:2129px;font-size:19.93px;line-height:22px;">Education programme within communities to improve awareness, targeting cultural and religious establishment to improve awareness and education among within</div>
<div class="t" style="left:122.49px;top:2153px;font-size:19.88px;line-height:22px;">minority population groups</div>
<div class="t" style="left:87.61px;top:2177px;font-size:19.88px;line-height:22px;">2.</div>
<div class="t" style="left:113.57px;top:2177px;font-size:19.88px;line-height:22px;">Formal GP sessions to improve recognition and need for early referrals to MAS</div>
<div class="t" style="left:87.84px;top:2201px;font-size:19.88px;line-height:22px;">3.</div>
<div class="t" style="left:113.57px;top:2201px;font-size:19.88px;line-height:22px;">Enhance role of memory link workers to support patients and carers in community</div>
<div class="t" style="left:52.00px;top:20px;font-size:42.00px;line-height:46px;color:#fff;font-family:'Liberation Serif',serif;-webkit-text-stroke:0.45px #fff;transform:scaleX(0.8761);transform-origin:0 0;"><span style="font-size:42.00px;position:relative;top:3.0px;">C</span><span style="font-size:17.50px;position:relative;top:-6.3px;margin-left:-2.0px;">A</span><span style="font-size:37.00px;position:relative;top:0.8px;margin-left:-1.0px;">R</span><span style="font-size:35.00px;position:relative;top:-0.6px;">D</span><span style="font-size:21.50px;position:relative;top:-5.0px;margin-left:1.0px;">I</span><span style="font-size:38.00px;position:relative;top:1.5px;margin-left:1.0px;">F</span><span style="font-size:38.00px;position:relative;top:1.5px;margin-left:-4.0px;">F</span></div>
<div class="t" style="left:56.50px;top:63px;font-size:15.60px;color:#fff;letter-spacing:1.914px;line-height:17px;-webkit-text-stroke:0.3px #fff;">UNIVERSITY</div>
<div class="t" style="left:56.32px;top:97px;font-size:15.60px;color:#fff;letter-spacing:2.688px;line-height:17px;-webkit-text-stroke:0.3px #fff;">PRIFYSGOL</div>
<div class="t" style="left:52.00px;top:105px;font-size:42.00px;line-height:46px;color:#fff;font-family:'Liberation Serif',serif;-webkit-text-stroke:0.45px #fff;transform:scaleX(0.9580);transform-origin:0 0;"><span style="font-size:42.00px;position:relative;top:2.7px;">C</span><span style="font-size:18.80px;position:relative;top:-4.0px;margin-left:-5.0px;">A</span><span style="font-size:12.70px;position:relative;top:-11.4px;margin-left:0.0px;">E</span><span style="font-size:33.50px;position:relative;top:0.0px;margin-left:0.0px;">R</span><span style="font-size:34.00px;position:relative;top:-1.8px;margin-left:-1.0px;">D</span><span style="font-size:19.40px;position:relative;top:-7.0px;margin-left:-2.0px;">Y</span><span style="font-size:18.70px;position:relative;top:1.7px;margin-left:-4.0px;">D</span><span style="font-size:28.70px;position:relative;top:-5.3px;margin-left:-9.0px;">D</span></div>
<svg style="left:0;top:0" width="1677" height="2374" viewBox="0 0 1677 2374"><circle cx="1508.7" cy="74.5" r="41.5" fill="none" stroke="#CDB27C" stroke-width="8.2"/><g transform="translate(1508.7 74.5)" fill="none" stroke-linejoin="miter" stroke-miterlimit="12"><circle cx="0" cy="0" r="12.6" stroke="#3B5592" stroke-width="7.6"/><g transform="rotate(0)"><path d="M12.5 -9 C9 -17 4 -24 0 -27 C-4 -30 -7.7 -34 -7.7 -40 C-7.7 -45 -4.5 -49 0 -53 C4.5 -49 7.7 -45 7.7 -40 C7.7 -34 4 -30 0 -27 C-4 -24 -9 -17 -12.5 -9" stroke="#fff" stroke-width="10" fill="none"/><path d="M0 -27 C-4 -30 -7.7 -34 -7.7 -40 C-7.7 -45 -4.5 -49 0 -53 C4.5 -49 7.7 -45 7.7 -40 C7.7 -34 4 -30 0 -27 Z" fill="#fff" stroke="none"/><path d="M12.5 -9 C9 -17 4 -24 0 -27 C-4 -30 -7.7 -34 -7.7 -40 C-7.7 -45 -4.5 -49 0 -53 C4.5 -49 7.7 -45 7.7 -40 C7.7 -34 4 -30 0 -27 C-4 -24 -9 -17 -12.5 -9" stroke="#3B5592" stroke-width="7.6"/><path d="M7.7 -40 C7.7 -34 4 -30 0 -27 C-4 -24 -9 -17 -12.5 -9" stroke="#fff" stroke-width="9.4"/><path d="M7.7 -40 C7.7 -34 4 -30 0 -27 C-4 -24 -9 -17 -12.5 -9" stroke="#3B5592" stroke-width="7.6"/><path d="M-7.7 -40 C-7.7 -45 -4.5 -49 0 -53 C4.5 -49 7.7 -45 7.7 -40 C7.7 -38 7.3 -36 6.5 -34" stroke="#3B5592" stroke-width="7.6"/></g><g transform="rotate(90)"><path d="M12.5 -9 C9 -17 4 -24 0 -27 C-4 -30 -7.7 -34 -7.7 -40 C-7.7 -45 -4.5 -49 0 -53 C4.5 -49 7.7 -45 7.7 -40 C7.7 -34 4 -30 0 -27 C-4 -24 -9 -17 -12.5 -9" stroke="#fff" stroke-width="10" fill="none"/><path d="M0 -27 C-4 -30 -7.7 -34 -7.7 -40 C-7.7 -45 -4.5 -49 0 -53 C4.5 -49 7.7 -45 7.7 -40 C7.7 -34 4 -30 0 -27 Z" fill="#fff" stroke="none"/><path d="M12.5 -9 C9 -17 4 -24 0 -27 C-4 -30 -7.7 -34 -7.7 -40 C-7.7 -45 -4.5 -49 0 -53 C4.5 -49 7.7 -45 7.7 -40 C7.7 -34 4 -30 0 -27 C-4 -24 -9 -17 -12.5 -9" stroke="#3B5592" stroke-width="7.6"/><path d="M7.7 -40 C7.7 -34 4 -30 0 -27 C-4 -24 -9 -17 -12.5 -9" stroke="#fff" stroke-width="9.4"/><path d="M7.7 -40 C7.7 -34 4 -30 0 -27 C-4 -24 -9 -17 -12.5 -9" stroke="#3B5592" stroke-width="7.6"/><path d="M-7.7 -40 C-7.7 -45 -4.5 -49 0 -53 C4.5 -49 7.7 -45 7.7 -40 C7.7 -38 7.3 -36 6.5 -34" stroke="#3B5592" stroke-width="7.6"/></g><g transform="rotate(180)"><path d="M12.5 -9 C9 -17 4 -24 0 -27 C-4 -30 -7.7 -34 -7.7 -40 C-7.7 -45 -4.5 -49 0 -53 C4.5 -49 7.7 -45 7.7 -40 C7.7 -34 4 -30 0 -27 C-4 -24 -9 -17 -12.5 -9" stroke="#fff" stroke-width="10" fill="none"/><path d="M0 -27 C-4 -30 -7.7 -34 -7.7 -40 C-7.7 -45 -4.5 -49 0 -53 C4.5 -49 7.7 -45 7.7 -40 C7.7 -34 4 -30 0 -27 Z" fill="#fff" stroke="none"/><path d="M12.5 -9 C9 -17 4 -24 0 -27 C-4 -30 -7.7 -34 -7.7 -40 C-7.7 -45 -4.5 -49 0 -53 C4.5 -49 7.7 -45 7.7 -40 C7.7 -34 4 -30 0 -27 C-4 -24 -9 -17 -12.5 -9" stroke="#3B5592" stroke-width="7.6"/><path d="M7.7 -40 C7.7 -34 4 -30 0 -27 C-4 -24 -9 -17 -12.5 -9" stroke="#fff" stroke-width="9.4"/><path d="M7.7 -40 C7.7 -34 4 -30 0 -27 C-4 -24 -9 -17 -12.5 -9" stroke="#3B5592" stroke-width="7.6"/><path d="M-7.7 -40 C-7.7 -45 -4.5 -49 0 -53 C4.5 -49 7.7 -45 7.7 -40 C7.7 -38 7.3 -36 6.5 -34" stroke="#3B5592" stroke-width="7.6"/></g><g transform="rotate(270)"><path d="M12.5 -9 C9 -17 4 -24 0 -27 C-4 -30 -7.7 -34 -7.7 -40 C-7.7 -45 -4.5 -49 0 -53 C4.5 -49 7.7 -45 7.7 -40 C7.7 -34 4 -30 0 -27 C-4 -24 -9 -17 -12.5 -9" stroke="#fff" stroke-width="10" fill="none"/><path d="M0 -27 C-4 -30 -7.7 -34 -7.7 -40 C-7.7 -45 -4.5 -49 0 -53 C4.5 -49 7.7 -45 7.7 -40 C7.7 -34 4 -30 0 -27 Z" fill="#fff" stroke="none"/><path d="M12.5 -9 C9 -17 4 -24 0 -27 C-4 -30 -7.7 -34 -7.7 -40 C-7.7 -45 -4.5 -49 0 -53 C4.5 -49 7.7 -45 7.7 -40 C7.7 -34 4 -30 0 -27 C-4 -24 -9 -17 -12.5 -9" stroke="#3B5592" stroke-width="7.6"/><path d="M7.7 -40 C7.7 -34 4 -30 0 -27 C-4 -24 -9 -17 -12.5 -9" stroke="#fff" stroke-width="9.4"/><path d="M7.7 -40 C7.7 -34 4 -30 0 -27 C-4 -24 -9 -17 -12.5 -9" stroke="#3B5592" stroke-width="7.6"/><path d="M-7.7 -40 C-7.7 -45 -4.5 -49 0 -53 C4.5 -49 7.7 -45 7.7 -40 C7.7 -38 7.3 -36 6.5 -34" stroke="#3B5592" stroke-width="7.6"/></g></g></svg>
<div class="t" style="left:1577.70px;top:20px;font-size:38.00px;color:#3B5592;letter-spacing:2.427px;line-height:42px;transform:scaleX(1.12);transform-origin:0 0;">GIG</div>
<div class="t" style="left:1582.47px;top:59px;font-size:15.40px;font-weight:bold;color:#CDB27C;letter-spacing:5.273px;line-height:17px;">CYMRU</div>
<div class="t" style="left:1577.98px;top:74px;font-size:38.00px;color:#3B5592;letter-spacing:-3.461px;line-height:42px;transform:scaleX(1.12);transform-origin:0 0;">NHS</div>
<div class="t" style="left:1583.08px;top:110px;font-size:15.40px;font-weight:bold;color:#CDB27C;letter-spacing:5.340px;line-height:17px;">WALES</div>
</body></html>
